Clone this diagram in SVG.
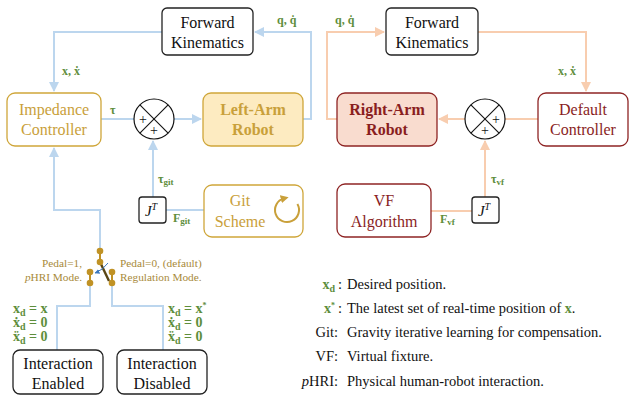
<svg xmlns="http://www.w3.org/2000/svg" width="630" height="396" viewBox="0 0 630 396" font-family="'Liberation Serif', 'Times New Roman', Tinos, 'DejaVu Serif', serif">
  <style>
    text { font-family: 'Liberation Serif', 'Times New Roman', Tinos, 'DejaVu Serif', serif; }
    .box { fill: #ffffff; stroke: #222222; stroke-width: 1.3; }
    .gold { fill: #ffffff; stroke: #CFA63A; stroke-width: 1.3; }
    .goldfill { fill: #FDEBC1; stroke: #CFA63A; stroke-width: 1.3; }
    .red { fill: #ffffff; stroke: #8E2424; stroke-width: 1.3; }
    .redfill { fill: #F9DCCF; stroke: #8E2424; stroke-width: 1.3; }
    .lbl { font-size: 16px; text-anchor: middle; fill: #111111; }
    .lgold { font-size: 16px; text-anchor: middle; fill: #C9A03A; }
    .lred { font-size: 16px; text-anchor: middle; fill: #8A1E1E; }
    .bold { font-weight: bold; }
    .blue { fill: none; stroke: #BCD6EE; stroke-width: 2; }
    .orange { fill: none; stroke: #F8CDAF; stroke-width: 2; }
    .math { font-size: 12px; font-weight: bold; fill: #5E8E3C; }
    .eq { font-size: 14px; font-weight: bold; fill: #5E8E3C; }
    .pedal { font-size: 11.3px; fill: #A88A3A; }
    .leg { font-size: 14.5px; fill: #111111; }
    .sum { fill: #ffffff; stroke: #111111; stroke-width: 1.2; }
    .sumline { stroke: #111111; stroke-width: 1.1; }
    .plus { font-size: 14px; fill: #111111; text-anchor: middle; }
  </style>
  <defs>
    <marker id="ab" viewBox="0 0 10 10" refX="9" refY="5" markerWidth="5" markerHeight="5" orient="auto">
      <path d="M0,0 L10,5 L0,10 z" fill="#BCD6EE"/>
    </marker>
    <marker id="ao" viewBox="0 0 10 10" refX="9" refY="5" markerWidth="5" markerHeight="5" orient="auto">
      <path d="M0,0 L10,5 L0,10 z" fill="#F8CDAF"/>
    </marker>
    <marker id="ag" viewBox="0 0 10 10" refX="4" refY="5" markerWidth="4" markerHeight="4" orient="auto">
      <path d="M0,0 L10,5 L0,10 z" fill="#C9A03A"/>
    </marker>
    <marker id="asw" viewBox="0 0 10 10" refX="9" refY="5" markerWidth="5" markerHeight="5" orient="auto">
      <path d="M0,0 L10,5 L0,10 z" fill="#3C78BE"/>
    </marker>
  </defs>

  <!-- connectors -->
  <g id="connectors">
    <!-- left arm loop -->
    <path class="blue" d="M303,119 H311 V32 H255" marker-end="url(#ab)"/>
    <path class="blue" d="M162,32 H54 V91" marker-end="url(#ab)"/>
    <path class="blue" d="M101,119 H134"/>
    <path class="blue" d="M174,119 H201" marker-end="url(#ab)"/>
    <path class="blue" d="M153,197 V141" marker-end="url(#ab)"/>
    <path class="blue" d="M204,210 H166"/>
    <path class="blue" d="M100,251 V210 H54 V148" marker-end="url(#ab)"/>
    <path class="blue" d="M90,283 V306 H57 V350"/>
    <path class="blue" d="M112,283 V306 H163 V350"/>
    <!-- right arm loop -->
    <path class="orange" d="M337,119 H327 V32 H384" marker-end="url(#ao)"/>
    <path class="orange" d="M478,32 H586 V91" marker-end="url(#ao)"/>
    <path class="orange" d="M538,119 H505"/>
    <path class="orange" d="M465,119 H439" marker-end="url(#ao)"/>
    <path class="orange" d="M485,197 V141" marker-end="url(#ao)"/>
    <path class="orange" d="M431,211 H472"/>

    <!-- signal labels -->
    <text class="math" x="277" y="24">q, q̇</text>
    <text class="math" x="62" y="75">x, ẋ</text>
    <text class="math" x="110" y="114">τ</text>
    <text class="math" x="158" y="183">τ<tspan font-size="9" dy="2">git</tspan></text>
    <text class="math" x="173" y="222">F<tspan font-size="9" dy="2">git</tspan></text>
    <text class="math" x="335" y="24">q, q̇</text>
    <text class="math" x="558" y="75">x, ẋ</text>
    <text class="math" x="491" y="183">τ<tspan font-size="9" dy="2">vf</tspan></text>
    <text class="math" x="440" y="223">F<tspan font-size="9" dy="2">vf</tspan></text>
  </g>

  <!-- forward kinematics, left -->
  <g id="fk-left">
    <rect class="box" x="162" y="8" width="91" height="47" rx="5"/>
    <text class="lbl" x="207.5" y="28">Forward</text>
    <text class="lbl" x="207.5" y="48">Kinematics</text>
  </g>

  <!-- forward kinematics, right -->
  <g id="fk-right">
    <rect class="box" x="386" y="8" width="92" height="47" rx="5"/>
    <text class="lbl" x="432" y="28">Forward</text>
    <text class="lbl" x="432" y="48">Kinematics</text>
  </g>

  <g id="impedance">
    <rect class="gold" x="7" y="93" width="94" height="53" rx="8"/>
    <text class="lgold" x="54" y="115">Impedance</text>
    <text class="lgold" x="54" y="135">Controller</text>
  </g>

  <g id="sum-left">
    <circle class="sum" cx="154" cy="119" r="20"/>
    <line class="sumline" x1="139.9" y1="104.9" x2="168.1" y2="133.1"/>
    <line class="sumline" x1="168.1" y1="104.9" x2="139.9" y2="133.1"/>
    <text class="plus" x="143" y="124">+</text>
    <text class="plus" x="154" y="135">+</text>
  </g>

  <g id="left-arm">
    <rect class="goldfill" x="203" y="93" width="100" height="53" rx="8"/>
    <text class="lgold bold" x="253" y="115">Left-Arm</text>
    <text class="lgold bold" x="253" y="135">Robot</text>
  </g>

  <g id="right-arm">
    <rect class="redfill" x="337" y="93" width="100" height="53" rx="8"/>
    <text class="lred bold" x="387" y="115">Right-Arm</text>
    <text class="lred bold" x="387" y="135">Robot</text>
  </g>

  <g id="sum-right">
    <circle class="sum" cx="485" cy="119" r="20"/>
    <line class="sumline" x1="470.9" y1="104.9" x2="499.1" y2="133.1"/>
    <line class="sumline" x1="499.1" y1="104.9" x2="470.9" y2="133.1"/>
    <text class="plus" x="496" y="124">+</text>
    <text class="plus" x="485" y="135">+</text>
  </g>

  <g id="default-controller">
    <rect class="red" x="538" y="93" width="90" height="53" rx="8"/>
    <text class="lred" x="583" y="115">Default</text>
    <text class="lred" x="583" y="135">Controller</text>
  </g>

  <g id="jt-git">
    <rect class="box" x="139" y="197" width="27" height="26" rx="3"/>
    <text x="151" y="216" font-size="15" font-style="italic" text-anchor="middle" fill="#111">J<tspan font-size="10" dy="-6" font-style="italic">T</tspan></text>
  </g>

  <g id="git-scheme">
    <rect class="gold" x="204" y="185" width="99" height="52" rx="8"/>
    <text class="lgold" x="240" y="206">Git</text>
    <text class="lgold" x="240" y="227">Scheme</text>
    <path d="M297.4,204 A12,12 0 1 1 284,198.4" fill="none" stroke="#C9A03A" stroke-width="2" marker-end="url(#ag)"/>
  </g>

  <g id="vf-algorithm">
    <rect class="red" x="337" y="184" width="94" height="53" rx="8"/>
    <text class="lred" x="384" y="206">VF</text>
    <text class="lred" x="384" y="227">Algorithm</text>
  </g>

  <g id="jt-vf">
    <rect class="box" x="472" y="197" width="27" height="26" rx="3"/>
    <text x="484" y="216" font-size="15" font-style="italic" text-anchor="middle" fill="#111">J<tspan font-size="10" dy="-6" font-style="italic">T</tspan></text>
  </g>

  <!-- pedal switch -->
  <g id="pedal-switch">
    <line x1="100" y1="251" x2="100" y2="262" stroke="#C09225" stroke-width="2"/>
    <line x1="90" y1="272" x2="90" y2="283" stroke="#C09225" stroke-width="2"/>
    <line x1="112" y1="272" x2="112" y2="283" stroke="#C09225" stroke-width="2"/>
    <line x1="100" y1="262" x2="109" y2="281" stroke="#5A4614" stroke-width="2.4"/>
    <circle cx="100" cy="251" r="3.3" fill="#C09225"/>
    <circle cx="100" cy="262" r="3.3" fill="#C09225"/>
    <circle cx="90" cy="272" r="3.3" fill="#C09225"/>
    <circle cx="90" cy="283" r="3.3" fill="#C09225"/>
    <circle cx="112" cy="272" r="3.3" fill="#C09225"/>
    <circle cx="112" cy="283" r="3.3" fill="#C09225"/>
    <path d="M108,263 Q103,270 95,273" fill="none" stroke="#3C78BE" stroke-width="1" marker-end="url(#asw)"/>
    <text class="pedal" x="82" y="267" text-anchor="end">Pedal=1,</text>
    <text class="pedal" x="82" y="281" text-anchor="end"><tspan font-style="italic">p</tspan>HRI Mode.</text>
    <text class="pedal" x="120" y="267">Pedal=0, (default)</text>
    <text class="pedal" x="120" y="281">Regulation Mode.</text>
  </g>

  <!-- reference conditions -->
  <g id="eq-enabled">
    <text class="eq" x="13" y="313">x<tspan font-size="10" dy="3">d</tspan><tspan dy="-3" xml:space="preserve"> = x</tspan></text>
    <text class="eq" x="13" y="327">ẋ<tspan font-size="10" dy="3">d</tspan><tspan dy="-3" xml:space="preserve"> = 0</tspan></text>
    <text class="eq" x="13" y="341">ẍ<tspan font-size="10" dy="3">d</tspan><tspan dy="-3" xml:space="preserve"> = 0</tspan></text>
  </g>
  <g id="eq-disabled">
    <text class="eq" x="168" y="313">x<tspan font-size="10" dy="3">d</tspan><tspan dy="-3" xml:space="preserve"> = x</tspan><tspan font-size="8" dy="-5">*</tspan></text>
    <text class="eq" x="168" y="327">ẋ<tspan font-size="10" dy="3">d</tspan><tspan dy="-3" xml:space="preserve"> = 0</tspan></text>
    <text class="eq" x="168" y="341">ẍ<tspan font-size="10" dy="3">d</tspan><tspan dy="-3" xml:space="preserve"> = 0</tspan></text>
  </g>

  <g id="interaction-enabled">
    <rect class="box" x="13" y="350" width="90" height="44" rx="7"/>
    <text class="lbl" x="58" y="369">Interaction</text>
    <text class="lbl" x="58" y="389">Enabled</text>
  </g>

  <g id="interaction-disabled">
    <rect class="box" x="117" y="350" width="90" height="44" rx="7"/>
    <text class="lbl" x="162" y="369">Interaction</text>
    <text class="lbl" x="162" y="389">Disabled</text>
  </g>

  <!-- legend -->
  <g id="legend">
    <text class="eq" x="335" y="289" text-anchor="end">x<tspan font-size="10" dy="3">d</tspan></text>
    <text class="leg" x="338" y="289">:</text>
    <text class="leg" x="347" y="289">Desired position.</text>
    <text class="eq" x="335" y="313" text-anchor="end">x<tspan font-size="8" dy="-5">*</tspan></text>
    <text class="leg" x="338" y="313">:</text>
    <text class="leg" x="347" y="313">The latest set of real-time position of <tspan class="eq">x</tspan>.</text>
    <text class="leg" x="338" y="337" text-anchor="end">Git:</text>
    <text class="leg" x="347" y="337">Gravity iterative learning for compensation.</text>
    <text class="leg" x="338" y="361" text-anchor="end">VF:</text>
    <text class="leg" x="347" y="361">Virtual fixture.</text>
    <text class="leg" x="338" y="386" text-anchor="end"><tspan font-style="italic">p</tspan>HRI:</text>
    <text class="leg" x="347" y="386">Physical human-robot interaction.</text>
  </g>
</svg>
